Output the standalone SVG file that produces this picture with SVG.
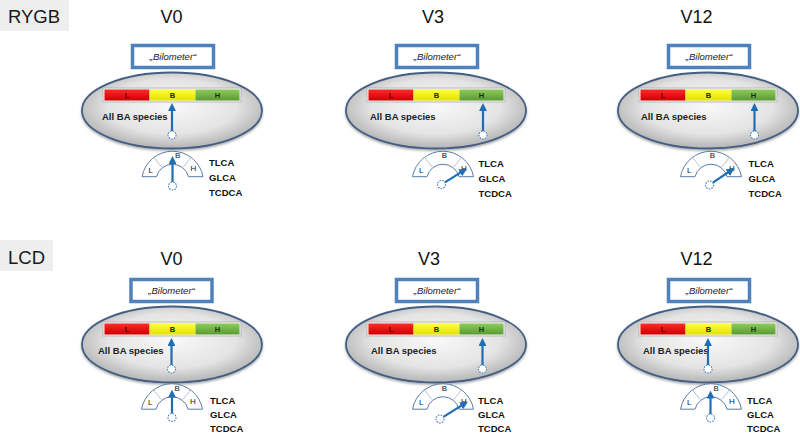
<svg xmlns="http://www.w3.org/2000/svg" width="800" height="435" viewBox="0 0 800 435">
<defs>
<radialGradient id="bowlG" cx="50%" cy="45%" r="55%">
<stop offset="0%" stop-color="#f8f8f8"/>
<stop offset="65%" stop-color="#e4e4e4"/>
<stop offset="100%" stop-color="#b4b4b4"/>
</radialGradient>
<linearGradient id="redG" x1="0" y1="0" x2="0" y2="1"><stop offset="0" stop-color="#ff2a2a"/><stop offset="1" stop-color="#cc0000"/></linearGradient>
<linearGradient id="yelG" x1="0" y1="0" x2="0" y2="1"><stop offset="0" stop-color="#ffff3c"/><stop offset="1" stop-color="#e2e200"/></linearGradient>
<linearGradient id="grnG" x1="0" y1="0" x2="0" y2="1"><stop offset="0" stop-color="#8ccc5a"/><stop offset="1" stop-color="#5c9a34"/></linearGradient>
<filter id="sh" x="-10%" y="-10%" width="120%" height="130%"><feDropShadow dx="0" dy="1.5" stdDeviation="1.2" flood-color="#000" flood-opacity="0.35"/></filter>
<marker id="ah" viewBox="0 0 10 10" refX="7" refY="5" markerWidth="3.6" markerHeight="3.6" orient="auto" markerUnits="strokeWidth"><path d="M0,0 L10,5 L0,10 z" fill="#1f6db5"/></marker>
<style>
.lbl{font-family:"Liberation Sans",Arial,sans-serif;font-size:18.5px;fill:#1a1a1a}
.ttl{font-family:"Liberation Sans",Arial,sans-serif;font-size:18px;fill:#111;text-anchor:middle}
.bowl{fill:url(#bowlG);stroke:#445f82;stroke-width:1.8;filter:url(#sh)}
.bilo{fill:#fff;stroke:#4f81bd;stroke-width:3.5}
.bilot{font-family:"Liberation Sans",Arial,sans-serif;font-size:9.5px;font-style:italic;fill:#222;text-anchor:middle}
.frame{fill:#f0f0f0;stroke:#b0b0b0;stroke-width:0.8}
.seg{font-family:"Liberation Sans",Arial,sans-serif;font-size:7.5px;font-weight:bold;text-anchor:middle}
.ba{font-family:"Liberation Sans",Arial,sans-serif;font-size:9.5px;font-weight:bold;fill:#222}
.gauge{fill:#fff;stroke:#5a7ca6;stroke-width:1}
.div{stroke:#a8b6c6;stroke-width:0.8}
.gl{font-family:"Liberation Sans",Arial,sans-serif;font-size:8px;fill:#111;text-anchor:middle}
.acid{font-family:"Liberation Sans",Arial,sans-serif;font-size:9.5px;font-weight:bold;fill:#111}
.shaft{stroke:#1f6db5;stroke-width:2.2;fill:none;marker-end:url(#ah)}
.pivot{fill:#fff;stroke:#4a7fc0;stroke-width:1.1;stroke-dasharray:1.6 1.1}
</style>
</defs>
<rect width="800" height="435" fill="#fff"/>

<g id="label-rygb"><rect x="0" y="0" width="69" height="31" fill="#eeeeee"/><text x="8" y="22.5" class="lbl">RYGB</text></g>
<g id="label-lcd"><rect x="0" y="240" width="53" height="31" fill="#eeeeee"/><text x="8" y="263.5" class="lbl">LCD</text></g>

<g id="titles">
<text x="171.5" y="23" class="ttl">V0</text>
<text x="433" y="23" class="ttl">V3</text>
<text x="696.5" y="23" class="ttl">V12</text>
<text x="171.5" y="265" class="ttl">V0</text>
<text x="429" y="265" class="ttl">V3</text>
<text x="696.5" y="265" class="ttl">V12</text>
</g>

<g id="rygb-v0-bilometer">
<ellipse cx="172" cy="110.5" rx="90" ry="38" class="bowl"/>
<rect x="132.5" y="45.5" width="81" height="22" class="bilo"/>
<text x="173" y="60" class="bilot">„Bilometer“</text>
<rect x="103" y="88" width="138" height="14" class="frame"/>
<rect x="104.5" y="89.5" width="45" height="11" fill="url(#redG)"/>
<rect x="149.5" y="89.5" width="46" height="11" fill="url(#yelG)"/>
<rect x="195.5" y="89.5" width="44" height="11" fill="url(#grnG)"/>
<text x="127" y="97.7" class="seg" fill="#4a0000">L</text>
<text x="172.5" y="97.7" class="seg" fill="#222">B</text>
<text x="217.5" y="97.7" class="seg" fill="#16300c">H</text>
<text x="102" y="120" class="ba">All BA species</text>
</g>
<g id="rygb-v3-bilometer" transform="translate(264,0)">
<ellipse cx="172" cy="110.5" rx="90" ry="38" class="bowl"/>
<rect x="132.5" y="45.5" width="81" height="22" class="bilo"/>
<text x="173" y="60" class="bilot">„Bilometer“</text>
<rect x="103" y="88" width="138" height="14" class="frame"/>
<rect x="104.5" y="89.5" width="45" height="11" fill="url(#redG)"/>
<rect x="149.5" y="89.5" width="46" height="11" fill="url(#yelG)"/>
<rect x="195.5" y="89.5" width="44" height="11" fill="url(#grnG)"/>
<text x="127" y="97.7" class="seg" fill="#4a0000">L</text>
<text x="172.5" y="97.7" class="seg" fill="#222">B</text>
<text x="217.5" y="97.7" class="seg" fill="#16300c">H</text>
<text x="106" y="120" class="ba">All BA species</text>
</g>
<g id="rygb-v12-bilometer" transform="translate(536,0)">
<ellipse cx="172" cy="110.5" rx="90" ry="38" class="bowl"/>
<rect x="132.5" y="45.5" width="81" height="22" class="bilo"/>
<text x="173" y="60" class="bilot">„Bilometer“</text>
<rect x="103" y="88" width="138" height="14" class="frame"/>
<rect x="104.5" y="89.5" width="45" height="11" fill="url(#redG)"/>
<rect x="149.5" y="89.5" width="46" height="11" fill="url(#yelG)"/>
<rect x="195.5" y="89.5" width="44" height="11" fill="url(#grnG)"/>
<text x="127" y="97.7" class="seg" fill="#4a0000">L</text>
<text x="172.5" y="97.7" class="seg" fill="#222">B</text>
<text x="217.5" y="97.7" class="seg" fill="#16300c">H</text>
<text x="105" y="120" class="ba">All BA species</text>
</g>
<g id="lcd-v0-bilometer" transform="translate(0,234)">
<ellipse cx="172" cy="110.5" rx="90" ry="38" class="bowl"/>
<rect x="131" y="45.5" width="81" height="22" class="bilo"/>
<text x="171.5" y="60" class="bilot">„Bilometer“</text>
<rect x="103" y="88" width="138" height="14" class="frame"/>
<rect x="104.5" y="89.5" width="45" height="11" fill="url(#redG)"/>
<rect x="149.5" y="89.5" width="46" height="11" fill="url(#yelG)"/>
<rect x="195.5" y="89.5" width="44" height="11" fill="url(#grnG)"/>
<text x="127" y="97.7" class="seg" fill="#4a0000">L</text>
<text x="172.5" y="97.7" class="seg" fill="#222">B</text>
<text x="217.5" y="97.7" class="seg" fill="#16300c">H</text>
<text x="98" y="120" class="ba">All BA species</text>
</g>
<g id="lcd-v3-bilometer" transform="translate(264,234)">
<ellipse cx="172" cy="110.5" rx="90" ry="38" class="bowl"/>
<rect x="132.5" y="45.5" width="81" height="22" class="bilo"/>
<text x="173" y="60" class="bilot">„Bilometer“</text>
<rect x="103" y="88" width="138" height="14" class="frame"/>
<rect x="104.5" y="89.5" width="45" height="11" fill="url(#redG)"/>
<rect x="149.5" y="89.5" width="46" height="11" fill="url(#yelG)"/>
<rect x="195.5" y="89.5" width="44" height="11" fill="url(#grnG)"/>
<text x="127" y="97.7" class="seg" fill="#4a0000">L</text>
<text x="172.5" y="97.7" class="seg" fill="#222">B</text>
<text x="217.5" y="97.7" class="seg" fill="#16300c">H</text>
<text x="107" y="120" class="ba">All BA species</text>
</g>
<g id="lcd-v12-bilometer" transform="translate(536,234)">
<ellipse cx="172" cy="110.5" rx="90" ry="38" class="bowl"/>
<rect x="132.5" y="45.5" width="81" height="22" class="bilo"/>
<text x="173" y="60" class="bilot">„Bilometer“</text>
<rect x="103" y="88" width="138" height="14" class="frame"/>
<rect x="104.5" y="89.5" width="45" height="11" fill="url(#redG)"/>
<rect x="149.5" y="89.5" width="46" height="11" fill="url(#yelG)"/>
<rect x="195.5" y="89.5" width="44" height="11" fill="url(#grnG)"/>
<text x="127" y="97.7" class="seg" fill="#4a0000">L</text>
<text x="172.5" y="97.7" class="seg" fill="#222">B</text>
<text x="217.5" y="97.7" class="seg" fill="#16300c">H</text>
<text x="107" y="120" class="ba">All BA species</text>
</g>

<g id="rygb-v0-gauge">
<path d="M142,176.7 A31,31 0 0 1 203,176.7 L188.5,176.7 A16.5,16.5 0 0 0 156.5,176.7 Z" class="gauge"/>
<line x1="161.7" y1="167.2" x2="153.4" y2="156.6" class="div"/><line x1="183.3" y1="167.2" x2="191.6" y2="156.6" class="div"/>
<text x="150.7" y="172.5" class="gl">L</text><text x="177.7" y="158" class="gl">B</text><text x="193.3" y="171" class="gl">H</text>
<text x="209" y="166" class="acid">TLCA</text><text x="209" y="181" class="acid">GLCA</text><text x="209" y="196" class="acid">TCDCA</text>
</g>
<g id="rygb-v3-gauge" transform="translate(270.5,0)">
<path d="M142,176.7 A31,31 0 0 1 203,176.7 L188.5,176.7 A16.5,16.5 0 0 0 156.5,176.7 Z" class="gauge"/>
<line x1="161.7" y1="167.2" x2="153.4" y2="156.6" class="div"/><line x1="183.3" y1="167.2" x2="191.6" y2="156.6" class="div"/>
<text x="150.7" y="172.5" class="gl">L</text><text x="174" y="158" class="gl">B</text><text x="193.3" y="171" class="gl">H</text>
<text x="208" y="167" class="acid">TLCA</text><text x="208" y="182" class="acid">GLCA</text><text x="208" y="197" class="acid">TCDCA</text>
</g>
<g id="rygb-v12-gauge" transform="translate(538.5,0)">
<path d="M142,176.7 A31,31 0 0 1 203,176.7 L188.5,176.7 A16.5,16.5 0 0 0 156.5,176.7 Z" class="gauge"/>
<line x1="161.7" y1="167.2" x2="153.4" y2="156.6" class="div"/><line x1="183.3" y1="167.2" x2="191.6" y2="156.6" class="div"/>
<text x="150.7" y="172.5" class="gl">L</text><text x="174" y="158" class="gl">B</text><text x="193.3" y="171" class="gl">H</text>
<text x="210" y="167" class="acid">TLCA</text><text x="210" y="182" class="acid">GLCA</text><text x="210" y="197" class="acid">TCDCA</text>
</g>
<g id="lcd-v0-gauge" transform="translate(-0.5,232.5)">
<path d="M142,176.7 A31,31 0 0 1 203,176.7 L188.5,176.7 A16.5,16.5 0 0 0 156.5,176.7 Z" class="gauge"/>
<line x1="161.7" y1="167.2" x2="153.4" y2="156.6" class="div"/><line x1="183.3" y1="167.2" x2="191.6" y2="156.6" class="div"/>
<text x="150.7" y="172.5" class="gl">L</text><text x="177.7" y="158" class="gl">B</text><text x="193.3" y="171" class="gl">H</text>
<text x="210.5" y="171.5" class="acid">TLCA</text><text x="210.5" y="185.5" class="acid">GLCA</text><text x="210.5" y="199.5" class="acid">TCDCA</text>
</g>
<g id="lcd-v3-gauge" transform="translate(270.5,232.5)">
<path d="M142,176.7 A31,31 0 0 1 203,176.7 L188.5,176.7 A16.5,16.5 0 0 0 156.5,176.7 Z" class="gauge"/>
<line x1="161.7" y1="167.2" x2="153.4" y2="156.6" class="div"/><line x1="183.3" y1="167.2" x2="191.6" y2="156.6" class="div"/>
<text x="150.7" y="172.5" class="gl">L</text><text x="174" y="158" class="gl">B</text><text x="193.3" y="171" class="gl">H</text>
<text x="207.5" y="171.5" class="acid">TLCA</text><text x="207.5" y="185.5" class="acid">GLCA</text><text x="207.5" y="199.5" class="acid">TCDCA</text>
</g>
<g id="lcd-v12-gauge" transform="translate(538.5,232.5)">
<path d="M142,176.7 A31,31 0 0 1 203,176.7 L188.5,176.7 A16.5,16.5 0 0 0 156.5,176.7 Z" class="gauge"/>
<line x1="161.7" y1="167.2" x2="153.4" y2="156.6" class="div"/><line x1="183.3" y1="167.2" x2="191.6" y2="156.6" class="div"/>
<text x="150.7" y="172.5" class="gl">L</text><text x="177.7" y="158" class="gl">B</text><text x="193.3" y="171" class="gl">H</text>
<text x="208.5" y="171" class="acid">TLCA</text><text x="208.5" y="185" class="acid">GLCA</text><text x="208.5" y="199" class="acid">TCDCA</text>
</g>

<g id="connectors">
<line x1="172" y1="131" x2="172" y2="105.5" class="shaft"/><circle cx="172" cy="135" r="4" class="pivot"/>
<line x1="483" y1="131" x2="483" y2="105.5" class="shaft"/><circle cx="483" cy="135" r="4" class="pivot"/>
<line x1="754.5" y1="131" x2="754.5" y2="105.5" class="shaft"/><circle cx="754.5" cy="135" r="4" class="pivot"/>
<line x1="171.5" y1="365" x2="171.5" y2="340.5" class="shaft"/><circle cx="171.5" cy="369" r="4" class="pivot"/>
<line x1="482.5" y1="365" x2="482.5" y2="340.5" class="shaft"/><circle cx="482.5" cy="369" r="4" class="pivot"/>
<line x1="708" y1="365" x2="708" y2="340.5" class="shaft"/><circle cx="708" cy="369" r="4" class="pivot"/>
<line x1="172.5" y1="182" x2="172.5" y2="158.5" class="shaft"/><circle cx="172.5" cy="186" r="4" class="pivot"/>
<line x1="444.9" y1="182.4" x2="464.8" y2="169.9" class="shaft"/><circle cx="441.5" cy="184.5" r="4" class="pivot"/>
<line x1="712.8" y1="182.7" x2="732.4" y2="169.5" class="shaft"/><circle cx="709.5" cy="185" r="4" class="pivot"/>
<line x1="172" y1="413.5" x2="172" y2="392" class="shaft"/><circle cx="172" cy="417.5" r="4" class="pivot"/>
<line x1="443.4" y1="416.9" x2="465.8" y2="402.9" class="shaft"/><circle cx="440" cy="419" r="4" class="pivot"/>
<line x1="710.5" y1="414" x2="710.5" y2="393" class="shaft"/><circle cx="710.5" cy="418" r="4" class="pivot"/>
</g>
</svg>
